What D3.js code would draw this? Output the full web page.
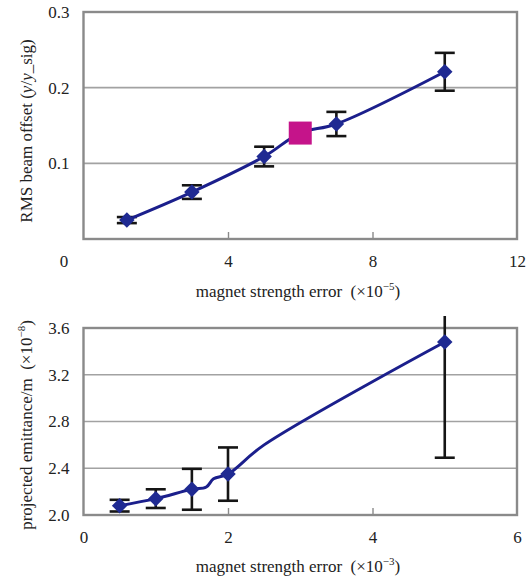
<!DOCTYPE html>
<html>
<head>
<meta charset="utf-8">
<script src="https://cdn.jsdelivr.net/npm/d3@7"></script>
<style>
  html, body { margin: 0; padding: 0; background: #fff; }
  svg, svg text { font-family: "Liberation Serif", "Times New Roman", serif; }
</style>
</head>
<body>
<div id="chart"></div>
<script>
// Top panel: RMS beam offset vs magnet strength error (x1e-5)
const topX = [1.2, 3, 5, 7, 10];
const topY = [0.025, 0.062, 0.109, 0.152, 0.221];
const topErr = [0.004, 0.009, 0.013, 0.016, 0.025];
const topSquare = [{ x: 6, y: 0.14 }];
const topXTicks = [0, 4, 8, 12];
const topYTicks = [0.1, 0.2, 0.3];
const topGrid = [0.1, 0.2];

// Bottom panel: projected emittance vs magnet strength error (x1e-3)
const botX = [0.5, 1, 1.5, 2, 5];
const botY = [2.08, 2.14, 2.22, 2.35, 3.48];
const botErr = [0.05, 0.08, 0.175, 0.228, 0.99];
// the plotted line has a few extra vertices without markers
const botLineX = [0.5, 1, 1.5, 1.7, 1.8, 2, 2.5, 5];
const botLineY = [2.08, 2.14, 2.22, 2.24, 2.31, 2.35, 2.6, 3.48];
const botXTicks = [0, 2, 4, 6];
const botYTicks = [2.0, 2.4, 2.8, 3.2, 3.6];
const botGrid = [2.4, 2.8, 3.2];

const width = 530, height = 580;
const lineColor = '#1b1f8c';
const markerColor = '#1f2a92';
const serif = '"Liberation Serif", "Times New Roman", serif';

const svg = d3.select('#chart')
    .append('svg')
    .attr('width', width)
    .attr('height', height);

function drawPanel(p) {
    const x = d3.scaleLinear().domain(p.xDomain).range([83.5, 517]);
    const y = d3.scaleLinear().domain(p.yDomain).range(p.yRange);
    const g = svg.append('g');

    // horizontal gridlines
    g.selectAll('.grid')
        .data(p.grid)
        .join('line')
        .attr('x1', x.range()[0]).attr('x2', x.range()[1])
        .attr('y1', d => y(d)).attr('y2', d => y(d))
        .attr('stroke', '#a2a2a2')
        .attr('stroke-width', 1.6);

    // plot frame
    g.append('rect')
        .attr('x', x.range()[0]).attr('y', y.range()[1])
        .attr('width', x.range()[1] - x.range()[0])
        .attr('height', y.range()[0] - y.range()[1])
        .attr('fill', 'none')
        .attr('stroke', '#8a8a8a')
        .attr('stroke-width', 2.4);

    // x axis: small inward ticks, labels below
    const xAxis = g.append('g')
        .attr('transform', `translate(0,${y.range()[0]})`)
        .call(d3.axisBottom(x).tickValues(p.xTicks).tickFormat(d3.format('d'))
            .tickSizeInner(-7).tickSizeOuter(0).tickPadding(16));
    xAxis.attr('font-family', null);
    xAxis.select('.domain').remove();
    xAxis.selectAll('.tick line')
        .attr('stroke', '#8a8a8a').attr('stroke-width', 1.4)
        .attr('display', (d, i) => (i === 0 || i === p.xTicks.length - 1) ? 'none' : null);
    xAxis.selectAll('.tick text')
        .attr('font-size', 17).attr('fill', '#222')
        .style('font-family', serif)
        .attr('dx', (d, i) => i === 0 ? p.zeroShift : 0);

    // y axis labels
    const yAxis = g.append('g')
        .attr('transform', `translate(${x.range()[0]},0)`)
        .call(d3.axisLeft(y).tickValues(p.yTicks).tickSize(0).tickPadding(14).tickFormat(d3.format('.1f')));
    yAxis.attr('font-family', null);
    yAxis.select('.domain').remove();
    yAxis.selectAll('.tick text')
        .attr('font-size', 17).attr('fill', '#222')
        .style('font-family', serif);

    // error bars (clipped just above the frame)
    const clipId = 'clip' + p.id;
    svg.append('clipPath').attr('id', clipId)
        .append('rect')
        .attr('x', 0).attr('y', y.range()[1] - 12)
        .attr('width', width).attr('height', y.range()[0] - y.range()[1] + 40);

    const pts = p.xs.map((v, i) => ({ x: v, y: p.ys[i], e: p.errs[i] }));
    const eb = g.append('g').attr('clip-path', `url(#${clipId})`)
        .attr('stroke', '#151515').attr('stroke-width', 2.6);
    eb.selectAll('.ev').data(pts).join('line')
        .attr('x1', d => x(d.x)).attr('x2', d => x(d.x))
        .attr('y1', d => y(d.y - d.e)).attr('y2', d => y(d.y + d.e));
    eb.selectAll('.ec').data(pts.flatMap(d => [d.y - d.e, d.y + d.e].map(v => ({ x: d.x, v }))))
        .join('line')
        .attr('x1', d => x(d.x) - 10).attr('x2', d => x(d.x) + 10)
        .attr('y1', d => y(d.v)).attr('y2', d => y(d.v));

    // line
    const linePts = p.lineX.map((v, i) => [v, p.lineY[i]]);
    g.append('path')
        .datum(linePts)
        .attr('fill', 'none')
        .attr('stroke', lineColor)
        .attr('stroke-width', 3)
        .attr('stroke-linejoin', 'round')
        .attr('d', d3.line().x(d => x(d[0])).y(d => y(d[1])).curve(d3.curveCatmullRom.alpha(0.5)));

    // diamond markers
    g.selectAll('.dm').data(pts).join('path')
        .attr('transform', d => `translate(${x(d.x)},${y(d.y)}) rotate(45)`)
        .attr('d', d3.symbol().type(d3.symbolSquare).size(120))
        .attr('fill', markerColor);

    // extra square marker
    if (p.squares) {
        g.selectAll('.sq').data(p.squares).join('rect')
            .attr('x', d => x(d.x) - 11.5).attr('y', d => y(d.y) - 11.5)
            .attr('width', 23).attr('height', 23)
            .attr('fill', '#c5148a');
    }

    // axis titles
    const xt = svg.append('text')
        .attr('x', 298).attr('y', p.xTitleY)
        .attr('text-anchor', 'middle')
        .attr('font-size', 17).attr('fill', '#222');
    xt.append('tspan').text('magnet strength error\u00a0\u00a0(\u00d710');
    xt.append('tspan').attr('font-size', 11).attr('dy', -7).text('\u2212' + p.xExp);
    xt.append('tspan').attr('dy', 7).text(')');

    const yt = svg.append('text')
        .attr('transform', `translate(32,${p.yTitleY}) rotate(-90)`)
        .attr('text-anchor', 'middle')
        .attr('font-size', 17).attr('fill', '#222');
    p.yTitle(yt);
}

drawPanel({
    id: 'top',
    xDomain: [0, 12], yDomain: [0, 0.3], yRange: [239, 12],
    xs: topX, ys: topY, errs: topErr,
    lineX: [...topX.slice(0, 3), topSquare[0].x, ...topX.slice(3)],
    lineY: [...topY.slice(0, 3), topSquare[0].y, ...topY.slice(3)],
    squares: topSquare,
    xTicks: topXTicks, yTicks: topYTicks, grid: topGrid,
    zeroShift: -20,
    xTitleY: 297, xExp: '5',
    yTitleY: 131,
    yTitle: t => {
        t.append('tspan').text('RMS beam offset (');
        t.append('tspan').attr('font-style', 'italic').text('y');
        t.append('tspan').text('/');
        t.append('tspan').attr('font-style', 'italic').text('y');
        t.append('tspan').text('_sig)');
    }
});

drawPanel({
    id: 'bot',
    xDomain: [0, 6], yDomain: [2.0, 3.6], yRange: [515, 328],
    xs: botX, ys: botY, errs: botErr,
    lineX: botLineX, lineY: botLineY,
    xTicks: botXTicks, yTicks: botYTicks, grid: botGrid,
    zeroShift: 0,
    xTitleY: 572, xExp: '3',
    yTitleY: 425,
    yTitle: t => {
        t.append('tspan').text('projected emittance/m\u00a0\u00a0(\u00d710');
        t.append('tspan').attr('font-size', 11).attr('dy', -7).text('\u2212' + '8');
        t.append('tspan').attr('dy', 7).text(')');
    }
});
</script>
</body>
</html>
